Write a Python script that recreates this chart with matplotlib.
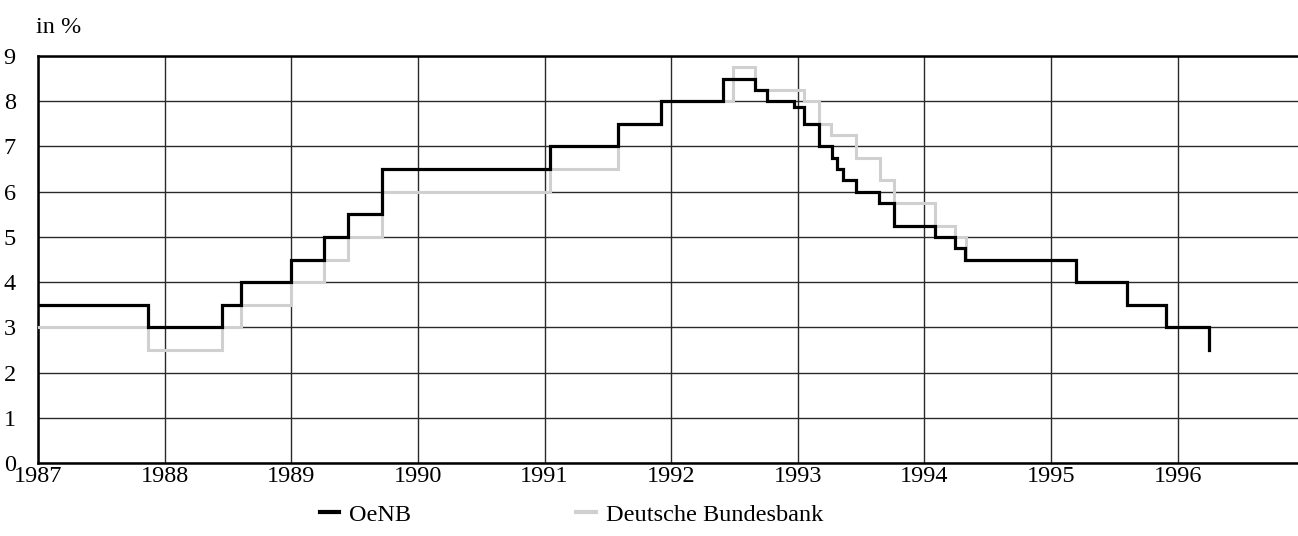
"""Discount rates: OeNB vs Deutsche Bundesbank, 1987-1996 (step chart)."""

import matplotlib
matplotlib.use("Agg")
import matplotlib.pyplot as plt
from matplotlib.lines import Line2D

# change dates (decimal years) and the rate valid from that date on
OENB_DATES = [1987.0, 1987.87, 1988.45, 1988.60, 1989.0, 1989.26, 1989.45, 1989.72,
              1991.04, 1991.58, 1991.92, 1992.41, 1992.66, 1992.76, 1992.97,
              1993.045, 1993.17, 1993.27, 1993.31, 1993.36, 1993.46, 1993.645,
              1993.76, 1994.085, 1994.24, 1994.32, 1995.20, 1995.60, 1995.91,
              1996.25]
OENB_RATES = [3.5, 3.0, 3.5, 4.0, 4.5, 5.0, 5.5, 6.5,
              7.0, 7.5, 8.0, 8.5, 8.25, 8.0, 7.875,
              7.5, 7.0, 6.75, 6.5, 6.25, 6.0, 5.75,
              5.25, 5.0, 4.75, 4.5, 4.0, 3.5, 3.0,
              2.5]

BBK_DATES = [1987.0, 1987.87, 1988.45, 1988.60, 1989.0, 1989.26, 1989.45, 1989.72,
             1991.04, 1991.58, 1991.92, 1992.49, 1992.66, 1993.05, 1993.17,
             1993.26, 1993.46, 1993.65, 1993.76, 1994.085, 1994.24, 1994.33,
             1995.20, 1995.60, 1995.91, 1996.25]
BBK_RATES = [3.0, 2.5, 3.0, 3.5, 4.0, 4.5, 5.0, 6.0,
             6.5, 7.5, 8.0, 8.75, 8.25, 8.0, 7.5,
             7.25, 6.75, 6.25, 5.75, 5.25, 5.0, 4.5,
             4.0, 3.5, 3.0, 2.5]

YEARS = list(range(1987, 1997))
Y_TICKS = list(range(0, 10))

plt.rcParams["font.family"] = ["Liberation Serif", "DejaVu Serif"]
FS = 17.5
GREY = "#d0d0d0"

fig = plt.figure(figsize=(12.98, 5.36), dpi=100)
ax = fig.add_axes([0.0293, 0.136, 0.9707, 0.7595])

ax.step(BBK_DATES, BBK_RATES, where="post", color=GREY, linewidth=2.2,
        solid_joinstyle="miter", zorder=3)
ax.step(OENB_DATES, OENB_RATES, where="post", color="black", linewidth=2.3,
        solid_joinstyle="miter", zorder=4)

ax.set_xlim(1987, 1996.95)
ax.set_ylim(0, 9)
ax.set_xticks(YEARS)
ax.set_xticklabels([str(y) for y in YEARS])
ax.set_yticks(Y_TICKS)
ax.tick_params(axis="both", length=0, labelsize=FS, colors="black")
ax.tick_params(axis="x", pad=2)
ax.tick_params(axis="y", pad=16)
ax.grid(True, color="#2a2a2a", linewidth=1.0)
ax.set_axisbelow(True)

for side in ("left", "bottom", "top"):
    ax.spines[side].set_linewidth(1.8)
    ax.spines[side].set_color("black")
ax.spines["right"].set_visible(False)

fig.text(0.028, 0.948, "in %", fontsize=FS, ha="left", va="center")

handles = [
    Line2D([], [], color="black", linewidth=3),
    Line2D([], [], color=GREY, linewidth=3),
]
fig.legend(handles, ["OeNB", "Deutsche Bundesbank"], loc="center left",
           bbox_to_anchor=(0.2465, 0.04), ncol=2, frameon=False, fontsize=FS,
           handlelength=0.8, handletextpad=0.4, columnspacing=6.8,
           borderpad=0, borderaxespad=0)

fig.savefig("out.png", dpi=100)
